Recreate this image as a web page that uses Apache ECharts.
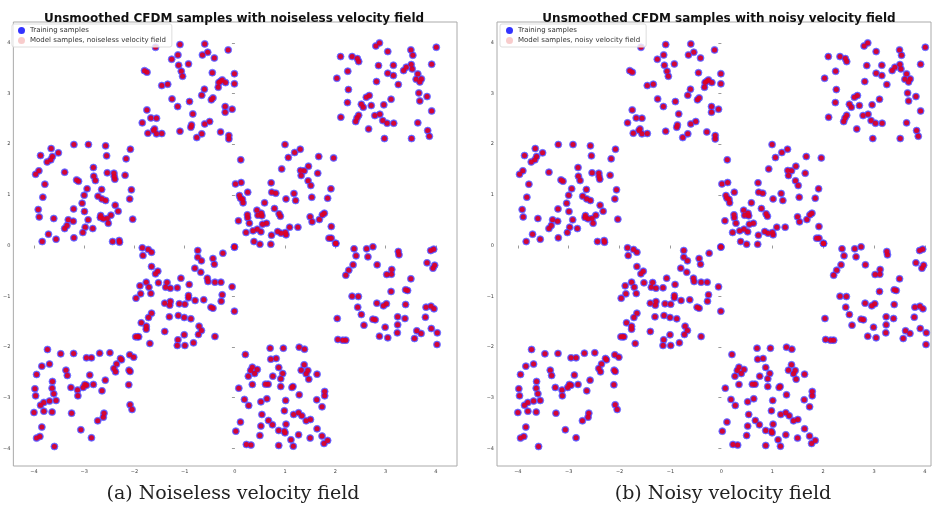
<!DOCTYPE html>
<html>
<head>
<meta charset="utf-8">
<script src="https://cdn.jsdelivr.net/npm/echarts@6/dist/echarts.min.js"></script>
<style>
  html, body { margin: 0; padding: 0; background: #fff; }
  #chart { width: 933px; height: 513px; }
</style>
</head>
<body>
<div id="chart"></div>
<script>
// samples, one array per square of the checkerboard
var sqTopMid = [
    [-1.58, 3.91], [-1.094, 3.965], [-0.601, 3.978], [-0.542, 3.813], [-0.647, 3.761], [-0.41, 3.70],
    [-0.134, 3.86], [-1.134, 3.761], [-1.259, 3.675], [-1.12, 3.557], [-0.924, 3.583], [-1.068, 3.44],
    [-1.042, 3.34], [-1.80, 3.45], [-1.75, 3.42], [-1.456, 3.156], [-1.338, 3.182], [-0.45, 3.41],
    [-0.253, 3.268], [-0.286, 3.241], [-0.32, 3.215], [-0.187, 3.215], [-0.332, 3.123], [-0.01, 3.39],
    [-0.01, 3.19], [-0.608, 3.084], [-0.66, 2.965], [-0.437, 2.913], [-0.47, 2.874], [-1.252, 2.893],
    [-0.904, 2.84], [-1.14, 2.742], [-0.194, 2.742], [-0.194, 2.63], [-0.056, 2.69], [-1.752, 2.676],
    [-0.838, 2.597], [-1.673, 2.518], [-1.561, 2.512], [-1.844, 2.42], [-0.601, 2.40], [-0.503, 2.446],
    [-1.60, 2.301], [-1.62, 2.268], [-0.864, 2.38], [-0.877, 2.334], [-1.732, 2.216], [-1.561, 2.203],
    [-1.456, 2.21], [-1.094, 2.255], [-0.286, 2.242], [-0.759, 2.13], [-0.66, 2.203], [-0.121, 2.17],
    [-0.121, 2.104]
];
var sqMidLeft = [
    [-3.967, 1.407], [-3.902, 1.473], [-3.869, 1.775], [-3.783, 1.21], [-3.823, 0.954], [-3.915, 0.71],
    [-3.895, 0.565], [-3.836, 0.079], [-3.711, 0.224], [-3.606, 0.533], [-3.56, 0.125], [-3.737, 1.65],
    [-3.665, 1.69], [-3.632, 1.756], [-3.658, 1.913], [-3.514, 1.828], [-3.389, 1.447], [-3.205, 1.992],
    [-2.916, 1.992], [-2.574, 1.966], [-2.554, 1.769], [-2.081, 1.90], [-2.166, 1.71], [-2.817, 1.539],
    [-2.81, 1.368], [-2.777, 1.282], [-2.541, 1.434], [-2.409, 1.427], [-2.403, 1.361], [-2.39, 1.309],
    [-2.186, 1.387], [-3.152, 1.295], [-3.113, 1.269], [-2.942, 1.118], [-3.001, 0.993], [-3.041, 0.835],
    [-3.211, 0.723], [-2.995, 0.671], [-2.725, 0.973], [-2.653, 1.105], [-2.646, 0.92], [-2.574, 0.888],
    [-2.383, 0.796], [-2.324, 0.677], [-2.094, 0.92], [-2.061, 1.098], [-2.035, 0.52], [-3.317, 0.506],
    [-3.343, 0.395], [-3.218, 0.48], [-3.389, 0.335], [-2.922, 0.506], [-2.981, 0.362], [-3.027, 0.257],
    [-3.205, 0.151], [-2.83, 0.335], [-2.672, 0.592], [-2.679, 0.553], [-2.619, 0.526], [-2.541, 0.533],
    [-2.468, 0.599], [-2.521, 0.44], [-2.435, 0.079], [-2.304, 0.099], [-2.297, 0.066]
];
var sqMidCenter = [
    [0.997, 1.992], [1.063, 1.736], [1.188, 1.835], [1.30, 1.90], [1.668, 1.756], [1.964, 1.729],
    [0.116, 1.69], [0.931, 1.512], [1.306, 1.479], [1.379, 1.473], [1.464, 1.565], [1.319, 1.381],
    [1.648, 1.427], [1.457, 1.276], [1.51, 1.184], [0.011, 1.216], [0.123, 1.243], [0.721, 1.236],
    [0.734, 1.052], [0.813, 1.032], [0.254, 1.052], [0.09, 0.986], [0.11, 0.934], [0.149, 0.914],
    [0.162, 0.842], [1.175, 1.026], [1.017, 0.92], [1.208, 0.888], [1.53, 0.953], [1.911, 1.118],
    [1.845, 0.934], [0.59, 0.842], [0.787, 0.73], [0.438, 0.697], [0.458, 0.599], [0.524, 0.638],
    [0.537, 0.586], [0.248, 0.605], [0.254, 0.546], [0.879, 0.625], [0.905, 0.579], [0.07, 0.487],
    [0.287, 0.44], [0.55, 0.421], [0.629, 0.44], [1.497, 0.566], [1.536, 0.467], [1.681, 0.513],
    [1.74, 0.605], [1.78, 0.638], [1.089, 0.362], [1.254, 0.362], [1.918, 0.375], [0.221, 0.257],
    [0.36, 0.29], [0.445, 0.322], [0.517, 0.27], [0.728, 0.204], [0.852, 0.276], [0.918, 0.244],
    [1.004, 0.257], [1.017, 0.211], [0.379, 0.079], [0.497, 0.026], [0.714, 0.026], [1.872, 0.145],
    [1.918, 0.145], [2.003, 0.046], [-0.009, -0.033]
];
var sqTopRight = [
    [2.805, 3.938], [2.877, 3.998], [3.042, 3.827], [3.502, 3.86], [3.541, 3.754], [4.008, 3.912],
    [2.102, 3.728], [2.332, 3.728], [2.437, 3.688], [2.463, 3.629], [2.858, 3.55], [3.154, 3.557],
    [2.246, 3.439], [3.042, 3.399], [3.154, 3.353], [3.41, 3.518], [3.357, 3.452], [3.509, 3.57],
    [3.529, 3.485], [3.916, 3.577], [3.64, 3.386], [3.607, 3.28], [3.68, 3.228], [3.712, 3.287],
    [2.029, 3.3], [2.818, 3.235], [3.252, 3.176], [2.259, 3.077], [3.66, 3.011], [3.824, 2.939],
    [3.68, 2.853], [2.615, 2.926], [2.674, 2.959], [2.24, 2.82], [2.516, 2.788], [2.555, 2.729],
    [2.713, 2.762], [2.963, 2.775], [3.108, 2.886], [3.916, 2.656], [2.108, 2.532], [2.463, 2.571],
    [2.43, 2.518], [2.404, 2.446], [2.785, 2.564], [2.884, 2.59], [2.943, 2.465], [3.029, 2.413],
    [3.16, 2.413], [3.64, 2.42], [2.661, 2.301], [3.837, 2.268], [3.87, 2.157], [2.976, 2.111],
    [3.515, 2.111]
];
var sqLowLeft = [
    [-3.731, -2.051], [-3.468, -2.137], [-3.211, -2.13], [-2.955, -2.216], [-2.856, -2.216], [-2.692, -2.124],
    [-2.488, -2.117], [-2.278, -2.229], [-2.258, -2.255], [-2.094, -2.156], [-2.015, -2.202], [-3.843, -2.38],
    [-3.691, -2.34], [-3.948, -2.544], [-3.363, -2.459], [-3.336, -2.564], [-2.356, -2.34], [-2.409, -2.426],
    [-2.376, -2.492], [-2.107, -2.459], [-2.087, -2.485], [-2.889, -2.557], [-2.58, -2.656], [-3.632, -2.682],
    [-3.981, -2.827], [-3.639, -2.814], [-3.264, -2.8], [-3.132, -2.853], [-3.021, -2.8], [-2.988, -2.741],
    [-2.955, -2.755], [-2.817, -2.741], [-2.113, -2.748], [-3.967, -2.965], [-3.606, -2.926], [-3.126, -2.965],
    [-2.646, -2.867], [-3.869, -3.149], [-3.803, -3.096], [-3.691, -3.07], [-3.56, -3.057], [-4.0, -3.294],
    [-3.803, -3.268], [-3.639, -3.287], [-3.251, -3.307], [-2.087, -3.143], [-2.048, -3.235], [-2.606, -3.307],
    [-2.62, -3.386], [-2.731, -3.458], [-3.843, -3.583], [-3.067, -3.636], [-3.948, -3.8], [-3.882, -3.767],
    [-2.856, -3.794], [-3.593, -3.965]
];
var sqLowMid = [
    [-1.844, -0.046], [-1.726, -0.079], [-1.66, -0.132], [-1.831, -0.197], [-0.739, -0.099], [-0.739, -0.23],
    [-0.667, -0.302], [-0.437, -0.256], [-0.41, -0.368], [-0.24, -0.151], [-0.01, -0.026], [-1.66, -0.414],
    [-1.581, -0.559], [-1.535, -0.506], [-1.522, -0.736], [-1.765, -0.723], [-1.712, -0.822], [-1.89, -0.796],
    [-1.877, -0.953], [-1.673, -0.947], [-1.969, -1.039], [-1.351, -0.73], [-1.377, -0.822], [-1.285, -0.842],
    [-1.147, -0.835], [-1.075, -0.644], [-0.91, -0.769], [-0.798, -0.447], [-0.68, -0.526], [-0.549, -0.644],
    [-0.536, -0.71], [-0.398, -0.723], [-0.279, -0.723], [-0.056, -0.815], [-0.253, -0.973], [-0.273, -1.098],
    [-0.01, -1.295], [-0.924, -0.986], [-0.924, -1.032], [-0.792, -1.085], [-0.621, -1.072], [-1.397, -1.137],
    [-1.285, -1.105], [-1.298, -1.177], [-1.107, -1.15], [-0.996, -1.157], [-0.477, -1.216], [-0.437, -1.236],
    [-1.66, -1.335], [-1.719, -1.42], [-1.305, -1.407], [-1.127, -1.381], [-1.009, -1.42], [-0.877, -1.446],
    [-1.864, -1.525], [-1.765, -1.591], [-1.765, -1.65], [-1.397, -1.696], [-0.713, -1.591], [-0.667, -1.676],
    [-0.726, -1.755], [-1.009, -1.762], [-0.398, -1.795], [-1.975, -1.801], [-1.943, -1.801], [-1.916, -1.801],
    [-1.693, -1.933], [-1.134, -1.861], [-1.147, -1.972], [-0.996, -1.972], [-0.825, -1.92]
];
var sqMidRight = [
    [2.01, 0.039], [2.371, -0.066], [2.411, -0.204], [2.621, -0.066], [2.647, -0.224], [2.746, -0.026],
    [2.831, -0.381], [2.352, -0.381], [2.266, -0.487], [2.207, -0.585], [3.252, -0.118], [3.265, -0.184],
    [3.121, -0.473], [3.114, -0.565], [3.022, -0.572], [3.502, -0.657], [3.897, -0.099], [3.956, -0.072],
    [3.824, -0.342], [3.975, -0.388], [3.942, -0.447], [3.108, -0.907], [2.332, -1.0], [2.457, -1.006],
    [3.397, -0.874], [3.436, -0.888], [2.825, -1.137], [2.956, -1.19], [3.015, -1.15], [2.444, -1.216],
    [3.397, -1.164], [3.804, -1.216], [3.903, -1.197], [3.962, -1.249], [2.516, -1.361], [2.746, -1.453],
    [2.792, -1.466], [3.239, -1.407], [3.384, -1.44], [3.791, -1.413], [2.036, -1.44], [2.568, -1.571],
    [2.99, -1.611], [3.239, -1.565], [3.909, -1.637], [4.028, -1.723], [3.232, -1.723], [2.877, -1.788],
    [3.042, -1.821], [3.62, -1.683], [3.706, -1.736], [3.574, -1.834], [4.022, -1.953], [2.049, -1.854],
    [2.148, -1.867], [2.207, -1.867]
];
var sqLowCenter = [
    [0.208, -2.15], [0.701, -2.025], [0.964, -2.025], [1.28, -2.005], [1.385, -2.045], [0.714, -2.242],
    [0.82, -2.229], [0.346, -2.4], [0.313, -2.465], [0.445, -2.446], [0.392, -2.525], [0.267, -2.577],
    [0.872, -2.406], [0.951, -2.525], [0.754, -2.577], [0.912, -2.63], [1.378, -2.354], [1.319, -2.459],
    [1.451, -2.466], [1.418, -2.531], [1.47, -2.637], [1.635, -2.538], [0.346, -2.742], [0.609, -2.735],
    [0.662, -2.735], [0.912, -2.781], [1.135, -2.8], [1.155, -2.781], [0.077, -2.814], [0.189, -3.037],
    [0.274, -3.156], [0.517, -3.084], [0.636, -3.024], [1.01, -3.057], [1.28, -2.946], [1.628, -3.044],
    [1.786, -2.879], [1.786, -2.965], [1.734, -3.182], [0.537, -3.333], [0.984, -3.261], [1.168, -3.333],
    [1.267, -3.3], [1.333, -3.359], [1.418, -3.458], [1.503, -3.432], [0.668, -3.452], [0.747, -3.537],
    [0.517, -3.563], [1.017, -3.524], [0.11, -3.484], [0.018, -3.662], [0.872, -3.649], [0.984, -3.662],
    [0.997, -3.695], [0.497, -3.748], [1.267, -3.735], [1.115, -3.833], [1.497, -3.8], [1.635, -3.616],
    [1.734, -3.76], [1.845, -3.846], [1.773, -3.905], [0.228, -3.925], [0.32, -3.938], [0.872, -3.945],
    [1.161, -3.958]
];
var tickValues = [-4, -3, -2, -1, 0, 1, 2, 3, 4];
var titles = ['Unsmoothed CFDM samples with noiseless velocity field', 'Unsmoothed CFDM samples with noisy velocity field'];
var captions = ['(a) Noiseless velocity field', '(b) Noisy velocity field'];
var modelNames = ['Model samples, noiseless velocity field', 'Model samples, noisy velocity field'];

var samples = [].concat(sqTopMid, sqMidLeft, sqMidCenter, sqTopRight, sqLowLeft, sqLowMid, sqMidRight, sqLowCenter);

var chart = echarts.init(document.getElementById('chart'), null, { renderer: 'canvas' });

var grids = [
    { left: 9, top: 22, width: 448, height: 444 },
    { left: 497, top: 22, width: 434, height: 444 }
];
var xRanges = [[-4.41, 4.42], [-4.41, 4.12]];
var titleX = [229, 714];
var captionX = [228, 718];

function fmt(v) {
    return String(v).replace('-', '\u2212');
}

function makeAxis(i, range) {
    return {
        type: 'value',
        gridIndex: i,
        min: range[0],
        max: range[1],
        axisLine: { show: false },
        splitLine: { show: false },
        axisTick: {
            show: true, length: 3, customValues: tickValues,
            lineStyle: { color: '#555', width: 0.6 }
        },
        axisLabel: {
            show: true, customValues: tickValues, formatter: fmt,
            fontSize: 5, color: '#444', margin: 3,
            fontFamily: 'DejaVu Sans'
        }
    };
}

var option = {
    backgroundColor: '#fff',
    animation: false,
    title: [],
    legend: [],
    grid: grids.map(function (g) {
        return Object.assign({ show: true, borderColor: '#aaa', borderWidth: 1, backgroundColor: '#fff' }, g);
    }),
    xAxis: [makeAxis(0, xRanges[0]), makeAxis(1, xRanges[1])],
    yAxis: [makeAxis(0, [-4.35, 4.41]), makeAxis(1, [-4.35, 4.41])],
    series: []
};

for (var i = 0; i < 2; i++) {
    option.title.push({
        text: titles[i],
        left: titleX[i], top: 8, textAlign: 'center',
        textStyle: { fontFamily: 'DejaVu Sans', fontWeight: 'bold', fontSize: 12, color: '#111' }
    });
    option.title.push({
        text: captions[i],
        left: captionX[i], top: 480, textAlign: 'center',
        textStyle: { fontFamily: 'DejaVu Serif', fontWeight: 'normal', fontSize: 19, color: '#222' }
    });
    option.legend.push({
        orient: 'vertical',
        left: grids[i].left + 3, top: 24,
        itemWidth: 7, itemHeight: 7, itemGap: 3,
        padding: [3, 6, 3, 6],
        borderColor: '#ddd', borderWidth: 1, borderRadius: 2,
        backgroundColor: 'rgba(255,255,255,0.8)',
        textStyle: { fontFamily: 'DejaVu Sans', fontSize: 7, color: '#333' },
        data: [
            { name: 'Training samples', icon: 'circle', itemStyle: { color: '#0000ff', borderWidth: 0 } },
            { name: modelNames[i], icon: 'circle', itemStyle: { color: '#f7c6c6', borderWidth: 0 } }
        ]
    });
    option.series.push({
        name: 'Training samples',
        type: 'scatter',
        xAxisIndex: i, yAxisIndex: i,
        symbolSize: 7,
        data: samples,
        itemStyle: { color: '#3417f2', borderColor: 'rgba(110,110,255,0.9)', borderWidth: 1 },
        emphasis: { disabled: true }
    });
    option.series.push({
        name: modelNames[i],
        type: 'scatter',
        xAxisIndex: i, yAxisIndex: i,
        symbolSize: 5,
        data: samples,
        itemStyle: { color: '#e0001f', opacity: 0.9 },
        emphasis: { disabled: true }
    });
}

chart.setOption(option);
</script>
</body>
</html>
